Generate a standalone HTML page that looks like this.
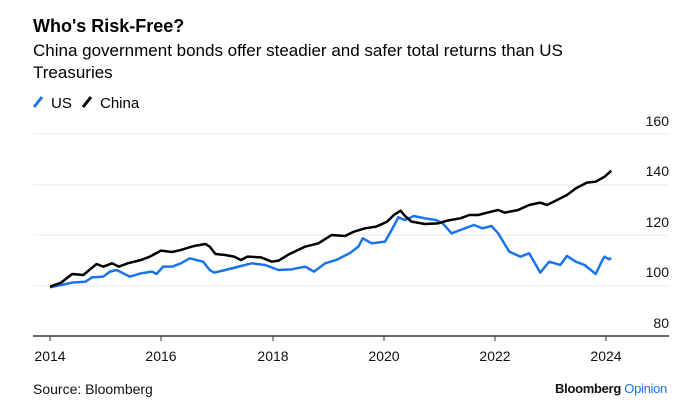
<!DOCTYPE html>
<html><head><meta charset="utf-8"><style>
html,body{margin:0;padding:0;background:#fff;}
body{width:693px;height:406px;position:relative;overflow:hidden;font-family:"Liberation Sans",sans-serif;color:#000;}
.t{position:absolute;white-space:nowrap;}
</style></head><body>
<div class="t" style="left:33px;top:16px;font-size:18px;font-weight:bold;">Who's Risk-Free?</div>
<div class="t" style="left:33px;top:40px;font-size:17px;line-height:22px;">China government bonds offer steadier and safer total returns than US<br>Treasuries</div>
<svg width="693" height="406" style="position:absolute;left:0;top:0">
  <line x1="34" y1="107" x2="42" y2="97" stroke="#1a73e8" stroke-width="3"/>
  <text x="51" y="108" font-size="15" font-family="Liberation Sans">US</text>
  <line x1="83" y1="107" x2="91" y2="97" stroke="#000" stroke-width="3"/>
  <text x="100" y="108" font-size="15" font-family="Liberation Sans">China</text>
  <g stroke="#e8e8e8" stroke-width="1">
    <line x1="33" y1="134" x2="669" y2="134"/>
    <line x1="33" y1="185" x2="669" y2="185"/>
    <line x1="33" y1="235" x2="669" y2="235"/>
    <line x1="33" y1="286" x2="669" y2="286"/>
  </g>
  <line x1="33" y1="336" x2="669" y2="336" stroke="#333" stroke-width="1.5"/>
  <g stroke="#333" stroke-width="1">
    <line x1="50" y1="336" x2="50" y2="341"/><line x1="161" y1="336" x2="161" y2="341"/>
    <line x1="273" y1="336" x2="273" y2="341"/><line x1="384" y1="336" x2="384" y2="341"/>
    <line x1="495" y1="336" x2="495" y2="341"/><line x1="606" y1="336" x2="606" y2="341"/>
  </g>
  <g font-size="14" font-family="Liberation Sans" text-anchor="end" fill="#111">
    <text x="669" y="126">160</text><text x="669" y="176">140</text>
    <text x="669" y="227">120</text><text x="669" y="277">100</text><text x="669" y="328">80</text>
  </g>
  <g font-size="14" font-family="Liberation Sans" text-anchor="middle" fill="#111">
    <text x="50" y="361">2014</text><text x="161" y="361">2016</text><text x="273" y="361">2018</text>
    <text x="384" y="361">2020</text><text x="495" y="361">2022</text><text x="606" y="361">2024</text>
  </g>
  <g transform="matrix(0.4437 0 0 0.3333 -1.03 100)" fill="none" stroke-linejoin="round">
    <polyline vector-effect="non-scaling-stroke" stroke="#1a73e8" stroke-width="2.5" points="115,562 140,555 165,548 195,545 210,532 235,530 250,515 265,510 280,520 295,530 320,520 345,515 355,522 370,500 390,500 410,490 430,475 460,485 475,510 485,518 510,510 540,500 570,490 600,495 630,510 660,508 690,500 710,515 735,490 760,480 790,460 810,440 820,415 840,430 870,425 885,390 900,352 915,360 935,348 960,355 985,360 1000,370 1020,400 1040,390 1070,375 1090,385 1110,378 1125,400 1150,455 1175,470 1195,460 1220,518 1240,485 1265,495 1280,468 1300,485 1320,495 1345,522 1360,480 1365,470 1375,478 1380,474"/>
    <polyline vector-effect="non-scaling-stroke" stroke="#000" stroke-width="2.5" points="115,560 140,548 165,522 190,525 220,492 235,500 255,490 270,500 290,490 320,480 340,470 365,452 390,456 410,450 440,438 465,432 475,440 488,462 510,465 530,470 545,480 560,470 590,472 615,485 630,482 655,462 690,440 720,430 750,405 780,408 800,395 825,385 850,380 875,365 890,345 905,332 915,348 930,365 960,372 990,370 1010,362 1040,355 1060,345 1080,345 1100,338 1125,330 1140,338 1170,330 1195,315 1220,308 1235,315 1255,302 1280,285 1300,265 1325,248 1345,245 1365,230 1380,212"/>
  </g>
  <text x="33" y="394" font-size="14" font-family="Liberation Sans" fill="#111">Source: Bloomberg</text>
  <text x="667" y="393" font-size="13" font-family="Liberation Sans" font-weight="bold" text-anchor="end" letter-spacing="-0.3"><tspan fill="#111">Bloomberg </tspan><tspan fill="#1a73e8" font-weight="normal">Opinion</tspan></text>
</svg>
</body></html>
